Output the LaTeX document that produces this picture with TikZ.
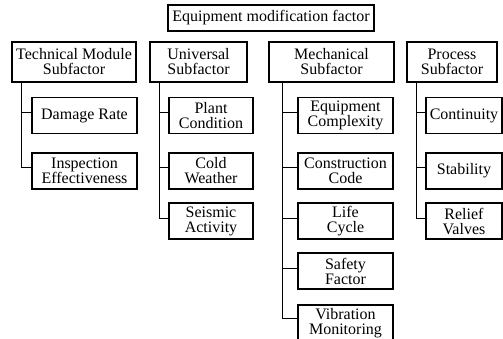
\documentclass[tikz,border=0pt]{standalone}
\usepackage{fontspec}
\setmainfont{Liberation Serif}
\begin{document}
\begin{tikzpicture}[x=1pt,y=-1pt,
  every node/.style={inner sep=0pt, align=center, font=\fontsize{16}{15}\selectfont},
  rootbox/.style={draw, line width=1.4pt, minimum height=26pt},
  groupbox/.style={draw, line width=1.7pt, minimum height=40pt},
  leafbox/.style={draw, line width=1.1pt, minimum height=36pt},
  link/.style={draw, line width=1pt}]
\useasboundingbox (0,0) rectangle (503,339);

% root
\node[rootbox, minimum width=206pt] (root) at (271,18) {Equipment modification factor};

% subfactor groups
\node[groupbox, minimum width=124pt] (tech) at (74,62) {Technical Module\\Subfactor};
\node[groupbox, minimum width=97pt]  (univ) at (198.5,62) {Universal\\Subfactor};
\node[groupbox, minimum width=125pt] (mech) at (331.5,62) {Mechanical\\Subfactor};
\node[groupbox, minimum width=90pt]  (proc) at (452,62) {Process\\Subfactor};

% technical module items
\node[leafbox, minimum width=105pt] (dmg) at (84.5,115.5) {Damage Rate};
\node[leafbox, minimum width=105pt] (insp) at (84.5,171) {Inspection\\Effectiveness};

% universal items
\node[leafbox, minimum width=84pt] (plant) at (211,115.5) {Plant\\Condition};
\node[leafbox, minimum width=84pt] (cold) at (211,171) {Cold\\Weather};
\node[leafbox, minimum width=84pt] (seis) at (211,221) {Seismic\\Activity};

% mechanical items (the last one runs past the lower edge)
\node[leafbox, minimum width=95pt] (equip) at (345.5,115.5) {Equipment\\Complexity};
\node[leafbox, minimum width=95pt] (code) at (345.5,171) {Construction\\Code};
\node[leafbox, minimum width=95pt] (life) at (345.5,221) {Life\\Cycle};
\node[leafbox, minimum width=95pt] (safe) at (345.5,271) {Safety\\Factor};
\node[leafbox, minimum width=95pt] (vib) at (345.5,323) {Vibration\\Monitoring};

% process items
\node[leafbox, minimum width=76pt] (cont) at (464,115.5) {Continuity};
\node[leafbox, minimum width=76pt] (stab) at (464,171) {Stability};
\node[leafbox, minimum width=76pt] (relief) at (464,221) {Relief\\Valves};

% trunk tops
\coordinate (tT) at ([xshift=10pt]tech.south west);
\coordinate (tU) at ([xshift=10pt]univ.south west);
\coordinate (tM) at ([xshift=14pt]mech.south west);
\coordinate (tP) at ([xshift=10pt]proc.south west);

% connectors
\foreach \c in {dmg,insp} \draw[link] (tT) |- ([yshift=3pt]\c.west);
\foreach \c in {plant,cold,seis} \draw[link] (tU) |- ([yshift=3pt]\c.west);
\foreach \c in {equip,code,life,safe} \draw[link] (tM) |- ([yshift=3pt]\c.west);
\draw[link] (tM) |- ([yshift=5pt]vib.west);
\foreach \c in {cont,stab,relief} \draw[link] (tP) |- ([yshift=3pt]\c.west);
\end{tikzpicture}
\end{document}
